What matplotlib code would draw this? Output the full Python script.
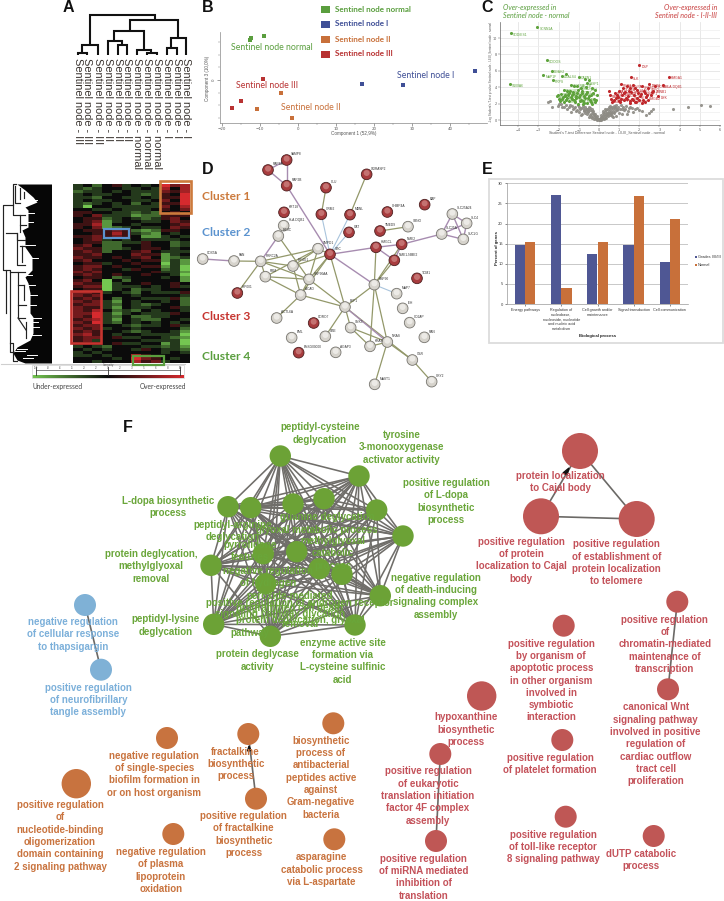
import itertools
import numpy as np
import matplotlib
matplotlib.use("Agg")
import matplotlib.pyplot as plt
from matplotlib.colors import LinearSegmentedColormap
from matplotlib.patches import Rectangle, Circle, Polygon

W, H = 724, 901
PT = 0.72
SANS = "Liberation Sans"
HUM = "Lato"
GREEN, BLUE, ORANGE, RED = "#5a9e3e", "#3f4f96", "#c8703a", "#b83232"

# ---------- A: sample tree ----------
A_LEAVES = ["III", "III", "III", "II", "II", "II", "normal", "normal", "normal", "I", "I", "I"]
A_X = [78, 87, 98, 108, 118, 127, 137, 147, 157, 167, 177, 186]
A_TREE = [[(78, 55), (78, 53), (87, 53), (87, 55)], [(82, 53), (82, 45), (98, 45), (98, 55)],
          [(90, 45), (90, 15), (155, 15), (155, 20)], [(130, 31), (130, 20), (178, 20), (178, 38)],
          [(114, 41), (114, 31), (144, 31), (144, 50)], [(108, 55), (108, 41), (122, 41), (122, 45)],
          [(118, 55), (118, 45), (127, 45), (127, 55)], [(137, 55), (137, 50), (151, 50), (151, 53)],
          [(147, 55), (147, 53), (157, 53), (157, 55)], [(171, 48), (171, 38), (186, 38), (186, 55)],
          [(167, 55), (167, 48), (177, 48), (177, 55)]]

# ---------- heat map: 0 = most under-expressed, 4 = neutral, 8 = most over-expressed ----------
HEAT_ROWS = [
 "342 453 434 867", "323 443 343 747", "233 434 333 657", "343 344 323 548", "332 443 343 558",
 "343 344 334 648", "323 434 243 558", "304 433 333 647", "443 343 334 546", "554 433 232 454",
 "546 333 122 555", "455 234 323 564", "456 134 433 465", "557 144 344 456", "546 123 433 465",
 "455 565 212 554", "445 575 321 434", "556 565 411 343", "456 343 433 334", "455 223 354 423",
 "564 224 454 423", "655 223 455 434", "565 244 564 333", "556 444 655 134", "655 454 564 123",
 "564 445 455 131", "455 344 544 031", "566 454 455 130", "565 443 544 230", "656 444 445 331",
 "565 454 454 430", "455 423 444 341", "564 042 444 441", "655 034 454 454", "566 033 343 453",
 "455 034 233 444", "665 343 243 335", "656 444 344 443", "565 424 433 352", "656 314 344 342",
 "566 324 323 442", "655 314 334 453", "657 423 243 443", "668 313 433 354", "658 324 223 344",
 "567 314 322 443", "658 324 343 434", "566 443 233 453", "656 344 344 442", "565 443 234 431",
 "675 434 433 330", "566 453 344 321", "563 444 433 330", "444 453 344 130", "343 244 433 231",
 "434 344 354 332", "343 444 444 343", "334 344 754 444", "444 434 865 434", "443 444 756 344",
]

# ---------- left gene tree ----------
G_EDGE_Y = [184, 190, 197, 202, 207, 210, 227, 230, 237, 247, 257, 270, 277, 283, 293, 313, 317,
            333, 340, 347, 353, 360, 363]
G_EDGE_X = [17, 25, 33, 37, 25, 28, 28, 22, 25, 25, 32, 32, 25, 28, 30, 30, 33, 33, 30, 17, 13, 17, 25]
G_TREE = [[(16, 184), (13, 184), (13, 205), (3, 205), (3, 270), (6, 270), (6, 313)],
          [(13, 205), (13, 215), (20, 215), (20, 232)], [(6, 233), (17, 233), (17, 265), (25, 265)],
          [(17, 233), (17, 240), (25, 240)], [(6, 270), (10, 270), (10, 352), (13, 352)],
          [(10, 272), (18, 272), (18, 318), (25, 318)], [(18, 272), (25, 272)],
          [(10, 343), (13, 343), (13, 361), (17, 361)],
          [(20, 215), (25, 215)], [(20, 225), (26, 225)], [(20, 246), (25, 246)], [(22, 246), (22, 262)],
          [(18, 285), (24, 285)], [(24, 285), (24, 300)], [(18, 305), (26, 305)], [(26, 322), (26, 338)],
          [(18, 318), (26, 330)], [(15, 186), (15, 203), (20, 203)], [(20, 188), (20, 199)], [(24, 192), (24, 198)]]
G_SPIKES = [(25, 196), (32, 200), (28, 222), (30, 245), (33, 258), (30, 285), (31, 305), (33, 322), (36, 335), (34, 327),
            (32, 355), (22, 349), (27, 275), (29, 213), (36, 318), (32, 295), (20, 351), (28, 358)]

# ---------- B: PCA ----------
PCA_NAMES = ["Sentinel node normal", "Sentinel node I", "Sentinel node II", "Sentinel node III"]
PCA_COLORS = [GREEN, BLUE, ORANGE, RED]
PCA_X = [[-9.0, -12.4, -12.7], [46.6, 16.9, 27.7], [-4.5, -10.8, -1.6], [-9.2, -15.1, -17.3]]
PCA_Y = [[17.4, 16.6, 15.7], [3.5, -1.5, -2.1], [-5.0, -11.3, -14.9], [0.4, -8.4, -10.9]]

# ---------- C: volcano ----------
V_GREEN_X = [-3.07, -4.35, -2.57, -2.33, -2.75, -2.28, -4.4, -1.62, -1.83, -1.0, -0.7, -0.5, -0.6, -1.4, -1.25,
             -1.1, -0.9, -0.65, -0.35, -0.2, -1.75, -1.6, -1.45, -1.3, -1.05, -0.85, -0.6, -0.3, -0.1, -2.05,
             -1.9, -1.7, -1.55, -1.3, -1.15, -0.95, -0.75, -0.5, -0.25, -2.1, -1.85, -1.6, -1.35, -1.15, -0.9,
             -0.7, -0.45, -0.2, -1.5, -1.2, -0.95, -0.6, -0.35, -1.75, -0.8, -1.95, -1.8, -1.65, -1.4, -1.25, -1.0,
             -0.8, -0.55, -0.4, -0.15, -1.5, -1.35, -1.1, -0.85, -0.65, -0.4, -1.7, -2.0, -1.05, -0.75]
V_GREEN_Y = [11.3, 10.6, 7.3, 6.0, 5.5, 4.9, 4.4, 5.65, 5.4, 5.3, 5.0, 4.9, 4.5, 4.3, 4.1, 4.2, 3.95, 4.0,
             3.9, 3.7, 3.7, 3.55, 3.6, 3.4, 3.65, 3.5, 3.45, 3.3, 3.0, 3.1, 3.2, 3.05, 3.0, 3.15, 2.95, 3.1,
             2.9, 2.95, 2.6, 2.9, 2.6, 2.7, 2.55, 2.7, 2.5, 2.65, 2.4, 2.2, 2.3, 2.2, 2.35, 2.1, 2.0, 2.2, 1.95,
             2.35, 2.8, 2.4, 2.8, 2.45, 2.85, 2.3, 2.75, 2.15, 2.45, 3.3, 3.0, 3.35, 3.25, 3.2, 3.1, 2.95, 2.55, 2.0, 2.1]
V_RED_X = [2.0, 1.6, 3.45, 3.2, 1.08, 1.4, 1.7, 2.15, 2.5, 2.8, 2.45, 2.7, 1.2, 1.55, 1.9, 2.25, 2.65, 0.5,
           0.8, 1.0, 1.3, 1.6, 1.95, 2.3, 2.6, 2.95, 0.55, 0.9, 1.15, 1.45, 1.75, 2.05, 2.35, 0.6, 0.85, 1.1,
           1.35, 1.65, 1.9, 2.2, 2.45, 0.7, 1.0, 1.25, 1.55, 1.8, 0.65, 0.95, 1.25, 1.5, 1.8, 2.1, 2.4, 0.75, 1.05,
           1.4, 1.7, 2.0, 2.3, 1.55, 1.85, 2.15]
V_RED_Y = [6.7, 5.2, 5.3, 4.25, 4.4, 4.2, 4.3, 4.1, 4.35, 4.2, 3.85, 3.6, 3.9, 3.85, 3.7, 3.6, 3.45, 3.5,
           3.35, 3.55, 3.4, 3.45, 3.3, 3.35, 3.1, 2.9, 3.0, 3.05, 3.1, 2.95, 3.05, 2.9, 2.8, 2.6, 2.7, 2.6,
           2.75, 2.6, 2.7, 2.5, 2.45, 2.3, 2.35, 2.4, 2.3, 2.2, 2.15, 2.85, 3.25, 3.6, 3.9, 3.2, 3.0, 2.5, 2.15,
           2.55, 2.4, 2.5, 2.25, 2.1, 2.15, 2.05]
V_GRAY_X = [-2.4, -2.5, -2.0, -1.9, 3.67, 4.4, 5.06, 5.52, 2.66, 2.46, 2.33, 2.6, -2.3, -2.05, -1.85, -1.65, -1.5,
            -1.35, -1.2, -1.05, -0.9, -0.8, -0.7, -0.6, -0.5, -0.45, -0.35, -0.3, -0.25, -0.2, -0.15, -0.1, -0.05,
            0.0, 0.05, 0.1, 0.15, 0.2, 0.25, 0.3, 0.35, 0.4, 0.5, 0.55, 0.65, 0.75, 0.85, 0.95, 1.1, 1.2, 1.35, 1.5,
            1.65, 1.8, 2.0, 2.15, -1.6, -1.3, -1.1, -0.95, -0.75, -0.65, -0.55, -0.4, 0.45, 0.6, 0.7, 0.8, 0.9, 1.05,
            1.25, 1.45, 1.7, -1.4, -1.0, -0.85, -0.7, -0.45, -0.3, -0.2, 0.2, 0.3, 0.4, 0.5, 0.6, 0.75, 1.0, 1.15, 1.4,
            -0.9, -0.6, -0.5, -0.35, -0.15, 0.1, 0.25, 0.35, 0.45, 0.55, 0.7, -0.25, -0.1, 0.05, 0.15, 0.3, -0.4, 0.65, 0.85,
            -1.25, -1.15, -1.0, -0.8, -0.65, -0.55, -0.42, -0.33, -0.28, -0.18, -0.08, 0.02, 0.08, 0.12, 0.18, 0.22, 0.28,
            0.33, 0.38, 0.48, 0.58, 0.68, 0.82, 0.92, 1.12, 1.3, 1.55, 1.9, -1.75, -1.45, -0.72, -0.52, 0.42, 0.52, 0.62, 0.78]
V_GRAY_Y = [2.3, 2.15, 1.9, 2.0, 1.38, 1.63, 1.87, 1.7, 1.38, 0.81, 0.6, 1.1, 1.6, 1.75, 1.55, 1.8, 1.6,
            1.75, 1.6, 1.85, 1.5, 1.7, 1.55, 1.4, 1.6, 1.2, 1.05, 0.9, 0.7, 0.55, 0.4, 0.3, 0.15,
            0.05, 0.1, 0.25, 0.4, 0.55, 0.75, 0.95, 1.2, 1.4, 1.6, 1.75, 1.55, 1.7, 1.85, 1.6, 1.8, 1.55, 1.7, 1.5,
            1.45, 1.3, 1.2, 1.05, 1.3, 1.35, 1.25, 1.4, 1.2, 1.05, 0.95, 0.75, 0.9, 1.1, 1.3, 1.05, 1.25, 1.35,
            1.2, 1.1, 0.95, 1.0, 0.95, 0.8, 0.9, 0.6, 0.5, 0.2, 0.3, 0.5, 0.7, 1.05, 0.75, 0.85, 0.9, 0.7, 0.8,
            0.6, 0.7, 0.35, 0.25, 0.1, 0.02, 0.15, 0.3, 0.45, 0.6, 0.4, 0.08, 0.05, 0.02, 0.12, 0.2, 0.4, 0.55, 0.45,
            1.5, 1.15, 1.6, 1.45, 1.3, 1.4, 1.45, 1.3, 1.15, 0.8, 0.45, 0.12, 0.35, 0.65, 0.85, 1.1, 1.3, 0.6, 0.9, 1.3,
            0.85, 0.95, 1.5, 1.4, 1.4, 1.35, 1.6, 1.5, 1.55, 1.85, 1.1, 1.05, 0.6, 0.85, 1.45, 1.55]
V_LABELS_G = [("SCNN1A", -3.0, 11.1), ("SOD/ES1", -4.3, 10.4), ("COOOS", -2.52, 7.1), ("DDAH2", -2.28, 5.8),
              ("MAP1F", -2.7, 5.3), ("PRPS", -2.23, 4.7), ("S100A6", -4.35, 4.2), ("LGALS4", -1.78, 5.2),
              ("CAPN1", -0.95, 5.1), ("LASP1", -0.55, 4.4), ("ACTN1", -1.35, 4.1), ("ANXA2", -1.05, 3.8),
              ("TAGLN2", -1.7, 3.5), ("PFN1", -1.25, 3.2), ("CFL1", -1.85, 3.0), ("VIM", -0.9, 2.95),
              ("MYL6", -1.55, 2.55), ("TPM3", -1.1, 2.5), ("GSN", -0.65, 2.5), ("ARPC2", -2.05, 2.7),
              ("CAP1", -0.8, 3.3), ("TLN1", -0.5, 3.7), ("FLNA", -0.6, 3.05), ("ALDOA", -1.3, 2.8), ("MSN", -1.95, 2.35),
              ("PKM", -1.45, 2.25), ("ENO1", -1.0, 2.2), ("LDHA", -0.6, 2.15), ("GAPDH", -1.75, 3.0), ("ACTB", -0.9, 4.2)]
V_LABELS_R = [("DSP", 2.05, 6.5), ("SLK", 1.65, 5.0), ("HMGA1", 3.5, 5.1), ("HLA-DQB1", 3.25, 4.05),
              ("RBM3", 1.15, 4.2), ("HNRNPA", 1.45, 4.0), ("SRSF1", 2.2, 3.9), ("NPM1", 2.55, 4.15),
              ("PCNA", 2.85, 4.0), ("SFPQ", 2.5, 3.65), ("LMNB1", 2.75, 3.4), ("TOP2A", 1.25, 3.7),
              ("H2AFX", 1.95, 3.5), ("RPA1", 0.85, 3.15), ("MCM2", 1.35, 3.2), ("SSRP1", 2.35, 3.15),
              ("DEK", 3.0, 2.7), ("PARP1", 0.6, 2.8), ("XRCC5", 1.2, 2.9), ("NCL", 1.7, 2.85),
              ("HMGB2", 2.4, 2.6), ("PTBP1", 0.9, 2.5), ("LBR", 1.6, 2.4), ("RAN", 1.0, 3.45), ("HNRNPU", 1.7, 3.25),
              ("SET", 2.05, 2.75), ("LMNA", 0.7, 2.25), ("TPR", 1.3, 2.3), ("KPNA2", 1.85, 2.15)]

# ---------- D: protein network ----------
D_NODES = {
 "VAMP8": (185, 75, 1), "RAP1A": (129, 105, 1), "RAP2B": (185, 152, 1), "CLU": (303, 158, 1), "GORASP2": (425, 118, 1),
 "KRT18": (177, 232, 1), "ORM2": (289, 238, 1), "MBNL": (375, 239, 1), "CAT": (372, 292, 1), "CHMP4A": (487, 231, 1),
 "BAP": (599, 209, 1), "TMED9": (465, 288, 1), "SBNO": (549, 275, 0), "SLC25A24": (682, 237, 0), "SLC4": (725, 265, 0),
 "SUCLG": (715, 313, 0), "SLC25A": (650, 297, 0), "HLA-DQB1": (176, 272, 0), "EIF3C": (160, 303, 0), "SMPD1": (279, 341, 0),
 "UBC": (315, 358, 1), "HMGCL": (453, 337, 1), "NME2": (530, 328, 1), "NME1-NME2": (508, 376, 1), "COX5A": (-67, 372, 0),
 "PAN": (27, 378, 0), "PRRC2A": (107, 379, 0), "EIF4G1": (204, 393, 0), "RBM": (121, 425, 0), "HSP90AA": (252, 433, 0),
 "ACAD": (227, 480, 0), "HSP90": (448, 449, 0), "MAP7": (515, 476, 0), "TOM1": (576, 430, 1), "HIP001": (37, 474, 1),
 "EEF1": (360, 516, 0), "IEH": (533, 520, 0), "CD2AP": (554, 563, 0), "RAN": (598, 607, 0), "ACTL6A": (155, 549, 0),
 "CORO7": (266, 564, 1), "EML": (200, 608, 0), "UBE": (301, 604, 0), "ENSG00000": (221, 653, 1), "AGAP3": (332, 652, 0),
 "SNX3": (377, 578, 0), "KRAS": (435, 634, 0), "NRAS": (487, 621, 0), "GSR": (562, 675, 0), "CRY2": (620, 740, 0), "MAST1": (449, 748, 0),
}
D_EDGES_PURPLE = [("RAP1A", "VAMP8"), ("RAP1A", "RAP2B"), ("VAMP8", "RAP2B"), ("RAP2B", "UBC"), ("UBC", "HMGCL"),
                  ("HMGCL", "NME2"), ("HMGCL", "NME1-NME2"), ("NME2", "NME1-NME2"), ("NME2", "SLC25A"), ("SLC25A", "SLC25A24"),
                  ("SLC25A", "SLC4"), ("SLC25A", "SUCLG"), ("SLC25A24", "SLC4"), ("SLC25A24", "SUCLG"), ("SLC4", "SUCLG"),
                  ("UBC", "HSP90"), ("EIF3C", "PRRC2A"), ("COX5A", "PAN"), ("EEF1", "NRAS")]
D_EDGES_OLIVE = [("CLU", "ORM2"), ("GORASP2", "MBNL"), ("TMED9", "SBNO"), ("HMGCL", "HSP90"), ("NME1-NME2", "HSP90"), ("NME2", "HSP90"),
                 ("UBC", "EEF1"), ("EIF3C", "HSP90AA"), ("PRRC2A", "SMPD1"), ("PRRC2A", "EIF4G1"), ("PRRC2A", "RBM"), ("PRRC2A", "HSP90AA"),
                 ("PAN", "PRRC2A"), ("PRRC2A", "HIP001"), ("RBM", "SMPD1"), ("RBM", "HSP90AA"), ("RBM", "ACAD"), ("EIF4G1", "SMPD1"),
                 ("EIF4G1", "UBC"), ("HSP90AA", "UBC"), ("HSP90AA", "SMPD1"), ("HSP90AA", "EEF1"), ("ACAD", "EEF1"), ("ACAD", "UBC"),
                 ("ACAD", "ACTL6A"), ("ACAD", "HSP90AA"), ("EIF4G1", "ACAD"), ("EEF1", "HSP90"), ("EEF1", "UBE"), ("EEF1", "SNX3"),
                 ("EEF1", "GSR"), ("HSP90", "KRAS"), ("HSP90", "NRAS"), ("SNX3", "KRAS"), ("SNX3", "NRAS"), ("KRAS", "NRAS"),
                 ("NRAS", "GSR"), ("GSR", "CRY2"), ("NRAS", "MAST1"), ("SMPD1", "UBC")]
D_EDGES_BLUE = [("ORM2", "UBC"), ("MBNL", "UBC"), ("CAT", "UBC"), ("HSP90", "MAP7")]

# ---------- E: bars ----------
E_CATS = ["Energy pathways", "Regulation of\nnucleobase,\nnucleoside, nucleotide\nand nucleic acid\nmetabolism",
          "Cell growth and/or\nmaintenance", "Signal transduction", "Cell communication"]
E_GRADES = [14.6, 27.0, 12.5, 14.6, 10.4]
E_NORMAL = [15.4, 3.9, 15.4, 26.9, 21.1]

# ---------- F: term network ----------
F_GREEN = [(280.3, 456), (359, 476), (228, 506.7), (250.7, 507.7), (293, 504), (324, 498.7), (376.7, 510), (403, 536),
           (263.3, 553.7), (296.7, 551.7), (319.3, 568.7), (342, 574.3), (211, 565.3), (265.7, 583.7), (380.3, 595.7),
           (213.7, 624.3), (355, 625), (270.3, 636.3)]
F_OTHER = [(85, 605, 11, "b"), (101, 669.7, 11, "b"),
           (167, 738, 11, "o"), (248.3, 734, 11, "o"), (333.3, 723.3, 11, "o"), (76.3, 783.7, 14.7, "o"), (256, 798.7, 11, "o"),
           (173.3, 834, 11, "o"), (334.3, 839.3, 11, "o"),
           (580, 451, 18, "r"), (541, 516.3, 18, "r"), (636.7, 519, 18, "r"), (677.3, 601.7, 11, "r"), (563.7, 625.7, 11, "r"),
           (481.7, 696, 14.7, "r"), (668, 689.3, 11, "r"), (562.3, 740, 11, "r"), (440.3, 754, 11, "r"), (565.7, 816.7, 11, "r"),
           (653.7, 836, 11, "r"), (436, 841, 11, "r")]
F_EDGES = [((85, 605), (101, 669.7)), ((248.3, 734), (256, 798.7)), ((580, 451), (541, 516.3)), ((580, 451), (636.7, 519)),
           ((541, 516.3), (636.7, 519)), ((677.3, 601.7), (668, 689.3)), ((440.3, 754), (436, 841))]
F_LABELS = [
 ("g", 320, 427.3, "peptidyl-cysteine\ndeglycation"), ("g", 401.7, 435, "tyrosine\n3-monooxygenase\nactivator activity"),
 ("g", 446, 483, "positive regulation\nof L-dopa\nbiosynthetic\nprocess"), ("g", 168, 501, "L-dopa biosynthetic\nprocess"),
 ("g", 151, 554, "protein deglycation,\nmethylglyoxal\nremoval"), ("g", 166, 619.3, "peptidyl-lysine\ndeglycation"),
 ("g", 257.7, 654.3, "protein deglycase\nactivity"), ("g", 342.7, 642.7, "enzyme active site\nformation via\nL-cysteine sulfinic\nacid"),
 ("g", 436, 577.7, "negative regulation\nof death-inducing\nsignaling complex\nassembly"),
 ("g", 233, 525, "peptidyl-arginine\ndeglycation"), ("g", 327, 517, "guanine deglycation"), ("g", 317, 530, "glyoxal metabolic process"),
 ("g", 250, 545, "pyrrolidone\nfeatures"), ("g", 333, 541, "methylglyoxal\ncatabolic\nprocess"),
 ("g", 268, 571, "negative regulation\nof hydrogen"), ("g", 290, 596, "peroxide-mediated\nprogrammed cell death"),
 ("g", 300, 603, "positive regulation of androgen receptor"), ("g", 280, 614, "signaling pathway glycation"),
 ("g", 300, 620, "protein deglycation, glyoxal"), ("g", 250, 632.7, "pathway"), ("g", 300, 624, "removal"),
 ("b", 72.7, 622, "negative regulation\nof cellular response\nto thapsigargin"), ("b", 88.3, 687.7, "positive regulation\nof neurofibrillary\ntangle assembly"),
 ("o", 154.3, 755.7, "negative regulation\nof single-species\nbiofilm formation in\nor on host organism"),
 ("o", 235.7, 751.7, "fractalkine\nbiosynthetic\nprocess"),
 ("o", 321, 740.7, "biosynthetic\nprocess of\nantibacterial\npeptides active\nagainst\nGram-negative\nbacteria"),
 ("o", 60, 805, "positive regulation\nof\nnucleotide-binding\noligomerization\ndomain containing\n2 signaling pathway"),
 ("o", 243.7, 816, "positive regulation\nof fractalkine\nbiosynthetic\nprocess"),
 ("o", 160.7, 852, "negative regulation\nof plasma\nlipoprotein\noxidation"),
 ("o", 321.7, 857.3, "asparagine\ncatabolic process\nvia L-aspartate"),
 ("r", 560.3, 476, "protein localization\nto Cajal body"),
 ("r", 521, 541.7, "positive regulation\nof protein\nlocalization to Cajal\nbody"),
 ("r", 616.7, 544.3, "positive regulation\nof establishment of\nprotein localization\nto telomere"),
 ("r", 664.7, 619.7, "positive regulation\nof\nchromatin-mediated\nmaintenance of\ntranscription"),
 ("r", 551.3, 643.7, "positive regulation\nby organism of\napoptotic process\nin other organism\ninvolved in\nsymbiotic\ninteraction"),
 ("r", 465.7, 717.3, "hypoxanthine\nbiosynthetic\nprocess"),
 ("r", 655.7, 707.3, "canonical Wnt\nsignaling pathway\ninvolved in positive\nregulation of\ncardiac outflow\ntract cell\nproliferation"),
 ("r", 550, 757.7, "positive regulation\nof platelet formation"),
 ("r", 428, 771.3, "positive regulation\nof eukaryotic\ntranslation initiation\nfactor 4F complex\nassembly"),
 ("r", 423.5, 858.7, "positive regulation\nof miRNA mediated\ninhibition of\ntranslation"),
 ("r", 553.3, 834.7, "positive regulation\nof toll-like receptor\n8 signaling pathway"),
 ("r", 641, 853.7, "dUTP catabolic\nprocess"),
]
F_NODE_COLORS = {"g": "#6ca236", "b": "#7fb1d6", "o": "#c8733f", "r": "#bf5755"}
F_TEXT_COLORS = {"g": "#6aa63a", "b": "#7cb0da", "o": "#c9743f", "r": "#c4525a"}

PANEL_LETTERS = [("A", 68, 8), ("B", 208, 8), ("C", 487, 8), ("D", 208, 170), ("E", 487, 170), ("F", 128, 427.5)]

# ====================================================================================
fig = plt.figure(figsize=(W / 100, H / 100), dpi=100)


def ax_px(l, t, r, b, **kw):
    return fig.add_axes([l / W, 1 - b / H, (r - l) / W, (b - t) / H], **kw)


base = ax_px(0, 0, W, H)
base.set_xlim(0, W)
base.set_ylim(H, 0)
base.axis("off")

for name, x, y in PANEL_LETTERS:
    base.text(x, y, name, fontsize=16 * PT, fontweight="bold", family=SANS, ha="center", va="center", color="#111111")

# --- A
for seg in A_TREE:
    xs, ys = zip(*seg)
    base.plot(xs, ys, color="#111111", lw=1.5, solid_joinstyle="miter", solid_capstyle="butt")
for x, leaf in zip(A_X, A_LEAVES):
    base.text(x, 58, f"Sentinel node - {leaf}", rotation=-90, fontsize=11 * PT, family=SANS, ha="center", va="top",
              color="#3a3430", rotation_mode="default")

# --- gene tree and heat map
ey = np.array(G_EDGE_Y)
ex = np.array(G_EDGE_X)
base.fill_betweenx(ey, ex, 51.5, color="#060606", lw=0)
for sx, sy in G_SPIKES:
    base.plot([sx - 5, sx + 5], [sy, sy], color="white", lw=0.7)
for seg in G_TREE:
    xs, ys = zip(*seg)
    base.plot(xs, ys, color="#222222", lw=0.85)

heat = np.array([[int(c) for c in r.replace(" ", "")] for r in HEAT_ROWS])
cmap = LinearSegmentedColormap.from_list("gbr", ["#74c651", "#0b0b0b", "#d62a2e"])
ha = ax_px(73, 184, 190, 363)
ha.imshow(heat, cmap=cmap, vmin=0, vmax=8, aspect="auto", interpolation="nearest")
ha.axis("off")

for (x0, y0, x1, y1, c, lw) in [(160, 181, 190.7, 212.7, "#cc7a3c", 1.9), (104, 229, 129.3, 237.7, "#5b93cf", 1.6),
                                (71, 290.7, 101, 342.7, "#c6342f", 1.9), (132.7, 355.7, 164.3, 364.7, "#5a9e3e", 1.6)]:
    base.add_patch(Rectangle((x0, y0), x1 - x0, y1 - y0, fill=False, ec=c, lw=lw, zorder=5))
base.set_zorder(4)
base.patch.set_alpha(0)
for label, y, c in [("Cluster 1", 196.7, "#cc7a3c"), ("Cluster 2", 233, "#5b93cf"), ("Cluster 3", 316.7, "#c6342f"), ("Cluster 4", 356.7, "#5a9e3e")]:
    base.text(202, y, label, fontsize=12 * PT, fontweight="bold", family=HUM, color=c, va="center")

# colour scale
base.plot([1, 185], [364, 364], color="#cfcfcf", lw=0.8)
base.add_patch(Rectangle((32, 365), 152, 13, fill=False, ec="#d8d8d8", lw=0.6))
cb = ax_px(32, 375, 184, 378)
cb.imshow(np.linspace(0, 8, 256)[None, :], cmap=cmap, vmin=0, vmax=8, aspect="auto")
cb.axis("off")
base.plot([36, 180], [370, 370], color="#555555", lw=0.5)
for tx in [36, 108, 180]:
    base.plot([tx, tx], [367, 375], color="#333333", lw=0.6)
for tx, t in zip([36, 48, 60, 72, 84, 96, 108, 120, 132, 144, 156, 168, 180],
                 ["-10", "-8", "-6", "-5", "-3", "-2", "0", "2", "3", "5", "6", "8", "10"]):
    base.text(tx, 367.8, t, fontsize=3 * PT, ha="center", va="center", color="#555555", family=SANS)
base.text(108, 364.8, "Intensity", fontsize=3 * PT, ha="center", va="center", color="#555555", family=SANS)
base.text(57.7, 386, "Under-expressed", fontsize=6.7 * PT, ha="center", va="center", color="#444444", family=HUM)
base.text(162.5, 386, "Over-expressed", fontsize=6.7 * PT, ha="center", va="center", color="#444444", family=HUM)

# --- B
bx = ax_px(220, 32, 487, 123)
bx.patch.set_alpha(0)
bx.set_xlim((220 - 298) / 3.8, (487 - 298) / 3.8)
bx.set_ylim((80 - 123) / 2.54, (80 - 32) / 2.54)
for xs, ys, c in zip(PCA_X, PCA_Y, PCA_COLORS):
    bx.scatter(xs, ys, s=8, marker="s", color=c, lw=0)
for s in ["top", "right"]:
    bx.spines[s].set_visible(False)
for s in ["left", "bottom"]:
    bx.spines[s].set_color("#888888")
    bx.spines[s].set_linewidth(0.5)
bx.set_xticks(np.arange(-20, 50, 10))
bx.set_xticks(np.arange(-20, 50, 5), minor=True)
bx.set_yticks([0])
bx.set_yticks(np.arange(-15, 20, 5), minor=True)
bx.tick_params(length=2, width=0.4, labelsize=4 * PT, pad=1, colors="#555555")
bx.tick_params(which="minor", length=1.2, width=0.3, colors="#777777")
bx.tick_params(axis="y", labelrotation=90)
base.text(354, 133, "Component 1 (52,9%)", fontsize=4.6 * PT, ha="center", va="center", color="#555555", family=SANS)
base.text(207.5, 78, "Component 3 (10,0%)", fontsize=4.6 * PT, rotation=90, ha="center", va="center", color="#555555", family=SANS)
for name, c, y in zip(PCA_NAMES, PCA_COLORS, [9, 24, 39, 54]):
    base.add_patch(Rectangle((321, y - 3.5), 9, 7, color=c, lw=0))
    base.text(335, y, name, fontsize=8 * PT, color=c, fontweight="bold", va="center", family=HUM)
for name, x, y, c in [("Sentinel node normal", 272, 47.7, GREEN), ("Sentinel node I", 426, 75.7, BLUE),
                      ("Sentinel node III", 267, 86, RED), ("Sentinel node II", 311, 108, ORANGE)]:
    base.text(x, y, name, fontsize=8.8 * PT, color=c, ha="center", va="center", family=HUM)

# --- C
cx = ax_px(500, 22, 720, 125)
cx.patch.set_alpha(0)
cx.set_xlim(-4.9, 6.0)
cx.set_ylim(-0.6, 11.95)
cx.set_xticks(np.arange(-4, 7))
cx.set_yticks(np.arange(0, 12, 2))
cx.set_yticks(np.arange(1, 12, 2), minor=True)
cx.grid(True, which="major", color="#e4e4e4", lw=0.6)
cx.grid(True, which="minor", axis="y", color="#eeeeee", lw=0.5)
cx.set_axisbelow(True)
cx.scatter(V_GRAY_X, V_GRAY_Y, s=5, color="#8d8b84", lw=0, alpha=0.9)
cx.scatter(V_GREEN_X, V_GREEN_Y, s=5, color="#5ea33c", lw=0)
cx.scatter(V_RED_X, V_RED_Y, s=5, color="#c0282c", lw=0)
for t, x, y in V_LABELS_G:
    cx.text(x + 0.05, y, t, fontsize=3.4 * PT, color="#5ea33c", va="center", family=SANS)
for t, x, y in V_LABELS_R:
    cx.text(x + 0.05, y, t, fontsize=3.4 * PT, color="#c0282c", va="center", family=SANS)
for s in ["top", "right"]:
    cx.spines[s].set_visible(False)
for s in ["left", "bottom"]:
    cx.spines[s].set_color("#666666")
    cx.spines[s].set_linewidth(0.5)
cx.tick_params(length=1.2, width=0.3, labelsize=3.4 * PT, pad=0.8, colors="#555555")
cx.tick_params(which="minor", length=0)
base.text(606.7, 132.7, "Student's T-test Difference Sentinel node - I-II-III_Sentinel node - normal", fontsize=3.6 * PT, ha="center",
          va="center", color="#555555", family=SANS)
base.text(491, 72, "-Log Student's T-test p-value Sentinel node - I-II-III_Sentinel node - normal", fontsize=3 * PT, rotation=90,
          ha="center", va="center", color="#555555", family=SANS)
for i, t in enumerate(["Over-expressed in", "Sentinel node - normal"]):
    base.text(503, 7.7 + 8.3 * i, t, fontsize=7.2 * PT, style="italic", color=GREEN, va="center", family=HUM)
for i, t in enumerate(["Over-expressed in", "Sentinel node - I-II-III"]):
    base.text(717, 7.7 + 8.3 * i, t, fontsize=7.2 * PT, style="italic", color="#c84040", va="center", ha="right", family=HUM)

# --- D
dx = ax_px(225 - 100 / 3, 135, 475, 385)
dx.set_xlim(-100, 750)
dx.set_ylim(750, 0)
dx.axis("off")
dx.patch.set_alpha(0)
dx.set_zorder(5)
for edges, c, lw in [(D_EDGES_OLIVE, "#93986a", 0.9), (D_EDGES_PURPLE, "#a78cb0", 1.0), (D_EDGES_BLUE, "#a9c4dc", 0.8)]:
    for a, b in edges:
        dx.plot([D_NODES[a][0], D_NODES[b][0]], [D_NODES[a][1], D_NODES[b][1]], color=c, lw=lw, solid_capstyle="butt", zorder=1)
for name, (x, y, isred) in D_NODES.items():
    fc, ec, hl = ("#a83c3e", "#4e2020", "#d08a88") if isred else ("#d6d3cc", "#77756f", "#f6f5f2")
    dx.add_patch(Circle((x, y), 16, fc=fc, ec=ec, lw=0.6, zorder=2, clip_on=False))
    dx.add_patch(Circle((x, y - 4), 9, fc=hl, ec="none", alpha=0.7, zorder=3, clip_on=False))
    dx.text(x + 14, y - 17, name, fontsize=3.2 * PT, color="#333333", zorder=4, va="center", family=SANS, clip_on=False)

# --- E
base.add_patch(Rectangle((489, 179), 234, 164, fill=False, ec="#dcdcdc", lw=1.3))
ex_ax = ax_px(507, 183.3, 688, 304)
ex_ax.patch.set_alpha(0)
ex_ax.set_zorder(5)
pos = np.arange(len(E_CATS))
ex_ax.bar(pos - 0.143, E_GRADES, 0.285, color="#4f5794", label="Grades I/II/III", zorder=3)
ex_ax.bar(pos + 0.143, E_NORMAL, 0.285, color="#c8703a", label="Normal", zorder=3)
ex_ax.set_xlim(-0.5, 4.5)
ex_ax.set_ylim(0, 30)
ex_ax.set_yticks(np.arange(0, 31, 5))
ex_ax.set_xticks(pos, E_CATS, family=SANS, linespacing=1.2)
ex_ax.yaxis.grid(True, color="#c8c8c8", lw=0.7)
ex_ax.set_axisbelow(True)
for s in ["top", "right"]:
    ex_ax.spines[s].set_visible(False)
for s in ["left", "bottom"]:
    ex_ax.spines[s].set_color("#999999")
    ex_ax.spines[s].set_linewidth(0.5)
ex_ax.tick_params(length=1.5, width=0.4, labelsize=3.8 * PT, pad=1.5, colors="#333333")
base.text(598, 336, "Biological process", fontsize=4.3 * PT, fontweight="bold", ha="center", va="center", family=SANS, color="#222222")
base.text(497, 248, "Percent of genes", fontsize=4.3 * PT, fontweight="bold", rotation=90, ha="center", va="center", family=SANS, color="#222222")
for y, c, t in [(257, "#4f5794", "Grades I/II/III"), (265, "#c8703a", "Normal")]:
    base.add_patch(Rectangle((694.5, y - 1.3), 2.6, 2.6, color=c, lw=0))
    base.text(698, y, t, fontsize=3.9 * PT, va="center", family=SANS, color="#333333")

# --- F
for a, b in itertools.combinations(F_GREEN, 2):
    base.plot([a[0], b[0]], [a[1], b[1]], color="#706e6a", lw=1.15, zorder=6, solid_capstyle="butt")
for a, b in F_EDGES:
    base.plot([a[0], b[0]], [a[1], b[1]], color="#6b6966", lw=1.2, zorder=6)
base.add_patch(Polygon([(569, 468), (563, 473), (567, 475)], color="#111111", zorder=8))
base.add_patch(Polygon([(249, 746), (247.5, 751), (251, 750.5)], color="#111111", zorder=8))
for x, y in F_GREEN:
    base.add_patch(Circle((x, y), 10.7, fc=F_NODE_COLORS["g"], ec="none", zorder=7))
for x, y, r, k in F_OTHER:
    base.add_patch(Circle((x, y), r, fc=F_NODE_COLORS[k], ec="none", zorder=7))
for k, x, y, txt in F_LABELS:
    for i, line in enumerate(txt.split("\n")):
        base.text(x, y + 12.3 * i, line, fontsize=9.8 * PT, fontweight="bold", family=SANS, color=F_TEXT_COLORS[k],
                  ha="center", va="center", zorder=9)

fig.savefig("out.png", dpi=100)
